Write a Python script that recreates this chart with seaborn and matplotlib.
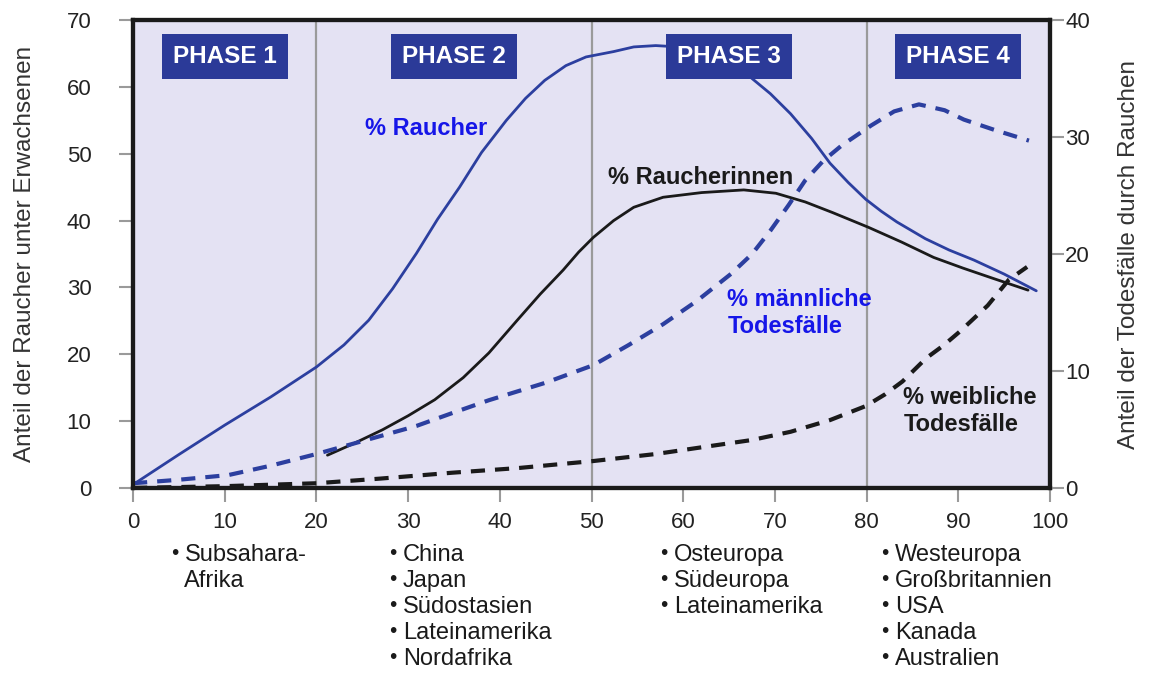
import matplotlib
matplotlib.use("Agg")
import matplotlib.pyplot as plt
import matplotlib.transforms as mtransforms
import seaborn as sns

# % Raucher (linke Achse)
raucher_x = [0, 5, 10, 15, 20, 23, 25.7, 28.3, 30.9, 33.2, 35.6, 38, 40.7, 42.8, 44.9, 47.2, 49.4, 52.4,
             54.6, 57, 59.5, 62.5, 65, 67.3, 69.5, 71.7, 74, 76, 78, 79.9, 81.6, 83.3, 86.4, 89, 91.7, 95, 98.5]
raucher_y = [0.5, 5.0, 9.4, 13.6, 18.1, 21.4, 25.1, 29.8, 35.1, 40.2, 45, 50.2, 55, 58.3, 61, 63.2, 64.5, 65.3,
             66.0, 66.2, 66.0, 64.6, 63.2, 61.5, 59, 56, 52.3, 48.6, 45.7, 43.2, 41.4, 39.8, 37.3, 35.6, 34.1, 32.0, 29.5]

# % Raucherinnen (linke Achse)
raucherinnen_x = [21.2, 24, 27.2, 30, 32.9, 36, 38.8, 41.9, 44.4, 46.9, 48.6, 50.2, 52.4, 54.6, 57.8, 62,
                  66.6, 70.1, 73.3, 76.3, 80.2, 83.8, 87.3, 90.5, 93.7, 97.6]
raucherinnen_y = [4.9, 6.6, 8.7, 10.8, 13.2, 16.5, 20.2, 25.1, 29.0, 32.6, 35.3, 37.5, 40, 42, 43.5, 44.2,
                  44.6, 44.1, 42.8, 41.2, 39, 36.8, 34.5, 32.9, 31.4, 29.6]

# % männliche Todesfälle (rechte Achse)
tod_m_x = [0, 5, 10.4, 15, 20, 25, 30.9, 34.8, 38.8, 45, 50.2, 54, 57.8, 61.5, 65.2, 67.5, 69.5, 71.5,
           73.3, 75.3, 77.3, 80.5, 83, 85.7, 88.5, 90.6, 94, 97.7]
tod_m_y = [0.4, 0.7, 1.1, 1.9, 2.9, 4.0, 5.3, 6.4, 7.5, 9.0, 10.5, 12.2, 14.0, 16.0, 18.3, 20.0, 22, 24.2,
           26.3, 28.0, 29.3, 31.0, 32.2, 32.8, 32.3, 31.5, 30.6, 29.7]

# % weibliche Todesfälle (rechte Achse)
tod_w_x = [0, 10, 20, 27, 34.8, 42, 50.2, 57, 63.1, 67.5, 71.7, 76, 79.9, 82, 83.9, 86.5, 88.4, 90.2,
           93.2, 95.5, 97.5]
tod_w_y = [0, 0.15, 0.4, 0.8, 1.3, 1.7, 2.3, 2.9, 3.6, 4.1, 4.8, 5.8, 7.0, 8.0, 9.1, 11.1, 12.2, 13.4,
           15.6, 17.8, 18.9]

phase_bounds = [0, 20, 50, 80, 100]
phase_names = ["PHASE 1", "PHASE 2", "PHASE 3", "PHASE 4"]
regions = [
    ["Subsahara-\nAfrika"],
    ["China", "Japan", "Südostasien", "Lateinamerika", "Nordafrika"],
    ["Osteuropa", "Südeuropa", "Lateinamerika"],
    ["Westeuropa", "Großbritannien", "USA", "Kanada", "Australien"],
]
region_x = [4.5, 28.3, 57.9, 82.0]

BLUE = "#2c3f9f"
BLACK = "#1a1a1a"
LABEL_BLUE = "#1616e8"
GREY = "#9a9a9a"

sns.set_theme(style="ticks")
plt.rcParams["font.family"] = ["Liberation Sans", "DejaVu Sans"]

fig = plt.figure(figsize=(11.52, 6.73), dpi=100)
ax = fig.add_axes([0.1155, 0.275, 0.796, 0.695])
ax.set_facecolor("#e4e2f3")
ax2 = ax.twinx()

for b in phase_bounds[1:-1]:
    ax.axvline(b, color=GREY, lw=1.6, zorder=1)

sns.lineplot(x=raucher_x, y=raucher_y, ax=ax, color=BLUE, linewidth=2.0, zorder=3)
sns.lineplot(x=raucherinnen_x, y=raucherinnen_y, ax=ax, color=BLACK, linewidth=2.0, zorder=3)
sns.lineplot(x=tod_m_x, y=tod_m_y, ax=ax2, color=BLUE, linewidth=3.0, linestyle=(0, (3.4, 2.4)))
sns.lineplot(x=tod_w_x, y=tod_w_y, ax=ax2, color=BLACK, linewidth=3.0, linestyle=(0, (3.4, 2.4)))

ax.set_xlim(0, 100)
ax.set_ylim(0, 70)
ax2.set_ylim(0, 40)
ax.set_xticks(range(0, 101, 10))
ax.set_yticks(range(0, 71, 10))
ax2.set_yticks(range(0, 41, 10))

for a in (ax, ax2):
    for s in a.spines.values():
        s.set_linewidth(3)
        s.set_color(BLACK)
        s.set_visible(True)

ax.tick_params(axis="both", direction="out", length=10, width=1.5, color=GREY,
               labelsize=16, labelcolor="#222222")
ax.tick_params(axis="y", pad=20)
ax.tick_params(axis="x", pad=7)
ax2.tick_params(axis="y", direction="out", length=10, width=1.5, color=GREY,
                labelsize=16, labelcolor="#222222", pad=1)

ax.set_ylabel("Anteil der Raucher unter Erwachsenen", fontsize=17.5, color="#333333", labelpad=22)
ax2.set_ylabel("Anteil der Todesfälle durch Rauchen", fontsize=17.5, color="#333333", labelpad=20)
ax.set_xlabel("")

# Phasen-Kästen
for i, name in enumerate(phase_names):
    cx = (phase_bounds[i] + phase_bounds[i + 1]) / 2
    ax.text(cx, 64.6, name, ha="center", va="center", color="white", fontsize=17.5,
            fontweight="bold", zorder=5,
            bbox=dict(boxstyle="square,pad=0.45", fc="#2b3a98", ec="none"))

# Kurvenbeschriftungen
ax.text(25.3, 53.8, "% Raucher", color=LABEL_BLUE, fontsize=17, fontweight="bold", va="center", zorder=4)
ax.text(51.8, 46.4, "% Raucherinnen", color=BLACK, fontsize=17, fontweight="bold", va="center", zorder=4)
ax.text(64.8, 26.2, "% männliche\nTodesfälle", color=LABEL_BLUE, fontsize=17, fontweight="bold",
        va="center", zorder=4)
ax.text(84.0, 11.5, "% weibliche\nTodesfälle", color=BLACK, fontsize=17, fontweight="bold",
        va="center", zorder=4)

# Länderlisten unter der Achse
trans = mtransforms.blended_transform_factory(ax.transData, fig.transFigure)
for col, bx in zip(regions, region_x):
    k = 0
    for entry in col:
        for j, line in enumerate(entry.split("\n")):
            y = 1 - (555 + 25.9 * k) / 673
            if j == 0:
                ax.text(bx, y + 0.002, "•", transform=trans, fontsize=15, color=BLACK,
                        ha="center", va="center", clip_on=False)
            ax.text(bx + 1.1, y, line, transform=trans, fontsize=17, color=BLACK,
                    ha="left", va="center", clip_on=False)
            k += 1

fig.savefig("out.png", dpi=100)
